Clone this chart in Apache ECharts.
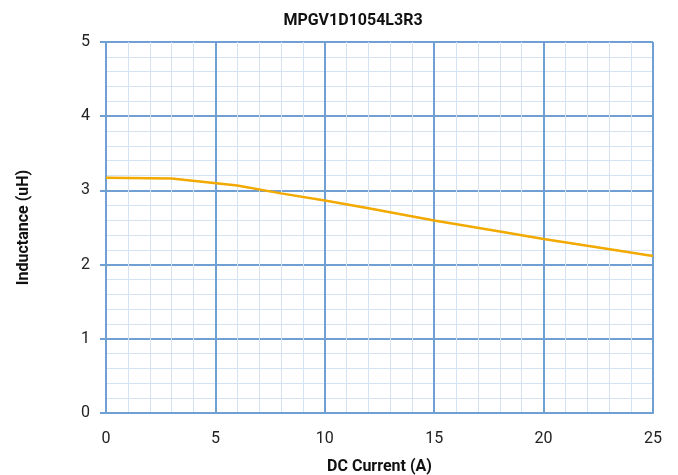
<!DOCTYPE html>
<html><head><meta charset="utf-8">
<script src="https://cdn.jsdelivr.net/npm/echarts@6/dist/echarts.min.js"></script>
<style>html,body{margin:0;padding:0;background:#fff}#c{width:678px;height:475px}</style>
</head><body><div id="c"></div>
<script>
const titleText = 'MPGV1D1054L3R3';
const xName = 'DC Current (A)';
const yName = 'Inductance (uH)';
const currentA = [0, 3, 6, 8, 10, 12, 15, 18, 20, 22, 25];
const inductanceUH = [3.17, 3.16, 3.065, 2.96, 2.865, 2.76, 2.595, 2.445, 2.345, 2.255, 2.115];

const major = '#6f9fd3';
const minor = '#d3e3f4';
const chart = echarts.init(document.getElementById('c'));
chart.setOption({
  animation: false,
  textStyle: {fontFamily: 'Roboto'},
  title: {text: titleText, left: 348, top: 8, textAlign: 'center',
    textStyle: {fontFamily: 'Roboto', fontWeight: 'bold', fontSize: 16, color: '#111'}},
  grid: {left: 106, right: 25, top: 42, bottom: 62, containLabel: false, outerBoundsMode: 'none'},
  xAxis: {type: 'value', min: 0, max: 25, interval: 5,
    name: xName, nameLocation: 'middle', nameGap: 46,
    nameTextStyle: {fontFamily: 'Roboto', fontWeight: 'bold', fontSize: 16, color: '#111'},
    axisLine: {show: true, lineStyle: {color: major, width: 2}},
    axisTick: {show: false},
    axisLabel: {fontSize: 16, color: '#222', margin: 18},
    splitLine: {show: true, lineStyle: {color: major, width: 2}},
    minorTick: {show: false, splitNumber: 5},
    minorSplitLine: {show: true, lineStyle: {color: minor, width: 1}}
  },
  yAxis: {type: 'value', min: 0, max: 5, interval: 1,
    name: yName, nameLocation: 'middle', nameGap: 74,
    nameTextStyle: {fontFamily: 'Roboto', fontWeight: 'bold', fontSize: 16, color: '#111'},
    axisLine: {show: true, lineStyle: {color: major, width: 2}},
    axisTick: {show: true, length: 6, lineStyle: {color: major, width: 2}},
    axisLabel: {fontSize: 16, color: '#222', margin: 16},
    splitLine: {show: true, lineStyle: {color: major, width: 2}},
    minorTick: {show: false, splitNumber: 5},
    minorSplitLine: {show: true, lineStyle: {color: minor, width: 1}}
  },
  series: [{type: 'line', data: currentA.map((x, i) => [x, inductanceUH[i]]),
    smooth: false, showSymbol: false, lineStyle: {color: '#f2a900', width: 2.5}}]
});
</script></body></html>
